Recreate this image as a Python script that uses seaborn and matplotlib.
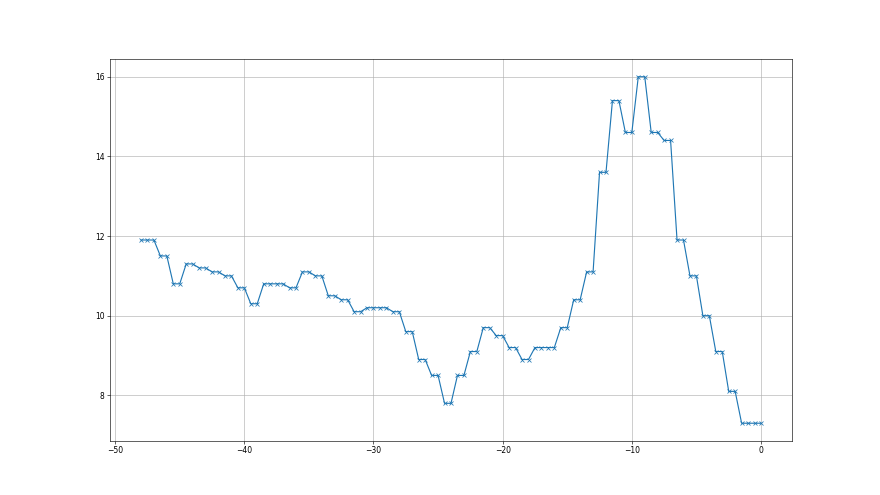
import numpy as np
import pandas as pd
import matplotlib
matplotlib.use("Agg")
import matplotlib.pyplot as plt
import seaborn as sns

x_vals = np.arange(-48, 0.5, 0.5)
y_vals = [
    11.9, 11.9, 11.9,
    11.5, 11.5, 10.8, 10.8, 11.3, 11.3, 11.2, 11.2, 11.1, 11.1, 11.0, 11.0,
    10.7, 10.7, 10.3, 10.3, 10.8, 10.8, 10.8, 10.8, 10.7, 10.7, 11.1, 11.1,
    11.0, 11.0, 10.5, 10.5, 10.4, 10.4, 10.1, 10.1, 10.2, 10.2, 10.2, 10.2,
    10.1, 10.1, 9.6, 9.6, 8.9, 8.9, 8.5, 8.5, 7.8, 7.8, 8.5, 8.5,
    9.1, 9.1, 9.7, 9.7, 9.5, 9.5, 9.2, 9.2, 8.9, 8.9, 9.2, 9.2,
    9.2, 9.2, 9.7, 9.7, 10.4, 10.4, 11.1, 11.1, 13.6, 13.6, 15.4, 15.4,
    14.6, 14.6, 16.0, 16.0, 14.6, 14.6, 14.4, 14.4, 11.9, 11.9, 11.0, 11.0,
    10.0, 10.0, 9.1, 9.1, 8.1, 8.1, 7.3, 7.3, 7.3, 7.3,
]

df = pd.DataFrame({"x": x_vals, "y": y_vals})

fig, ax = plt.subplots(figsize=(16, 9), dpi=55)
sns.lineplot(data=df, x="x", y="y", ax=ax, color="C0", marker="x",
             markeredgecolor="C0", markeredgewidth=1, markersize=6)
ax.grid(True, color="#b0b0b0", linewidth=0.8)
ax.set_xlabel("")
ax.set_ylabel("")

fig.savefig("out.png", dpi=55)
